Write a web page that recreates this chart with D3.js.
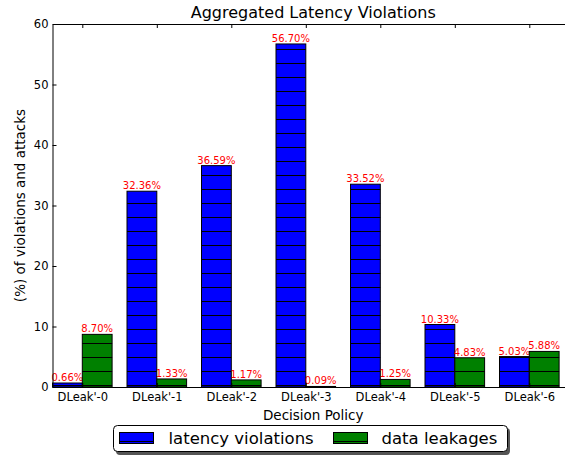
<!DOCTYPE html>
<html>
<head>
<meta charset="utf-8">
<script src="https://cdn.jsdelivr.net/npm/d3@7"></script>
<style>
  body { margin: 0; background: #fff; }
  svg { display: block; font-family: "DejaVu Sans", sans-serif; }
</style>
</head>
<body>
<svg id="chart" width="565" height="457"></svg>
<script>
var policies = ["DLeak'-0", "DLeak'-1", "DLeak'-2", "DLeak'-3", "DLeak'-4", "DLeak'-5", "DLeak'-6"];
var latencyViolations = [0.66, 32.36, 36.59, 56.70, 33.52, 10.33, 5.03];
var dataLeakages = [8.70, 1.33, 1.17, 0.09, 1.25, 4.83, 5.88];
var yTicks = [0, 10, 20, 30, 40, 50, 60];
var seriesNames = ["latency violations", "data leakages"];
var seriesColors = ["#0000ff", "#008000"];

var svg = d3.select("#chart");
var plotLeft = 52.5, plotTop = 24, plotBottom = 387, barWidth = 0.4;

var x = d3.scaleLinear().domain([0, 7]).range([plotLeft, plotLeft + 7 * 74.5]);
var y = d3.scaleLinear().domain([0, 60]).range([plotBottom, plotTop]);

// horizontal hatch lines on a fixed 14px grid (same grid for bars and legend)
function hatch(g, x0, x1, y0, y1) {
    var k0 = Math.ceil((y0 - 7.5) / 14);
    for (var k = k0; 7.5 + 14 * k < y1; k++) {
        var yy = 7.5 + 14 * k;
        g.append("line")
            .attr("x1", x0).attr("x2", x1)
            .attr("y1", yy).attr("y2", yy)
            .attr("stroke", "#000").attr("stroke-width", 1);
    }
}

function drawPatch(g, x0, y0, w, h, color) {
    g.append("rect").attr("x", x0).attr("y", y0).attr("width", w).attr("height", h)
        .attr("fill", color);
    hatch(g, x0, x0 + w, y0, y0 + h);
    g.append("rect").attr("x", x0).attr("y", y0).attr("width", w).attr("height", h)
        .attr("fill", "none").attr("stroke", "#000").attr("stroke-width", 1);
}

var series = [latencyViolations, dataLeakages];

series.forEach(function(vals, s) {
    var g = svg.append("g").attr("class", "series" + s);
    vals.forEach(function(d, i) {
        var x0 = x(i + s * barWidth), x1 = x(i + s * barWidth + barWidth);
        drawPatch(g, x0, y(d), x1 - x0, y(0) - y(d), seriesColors[s]);
    });

    svg.selectAll(".lbl" + s)
        .data(vals)
        .enter().append("text")
        .attr("class", "lbl" + s)
        .attr("x", function(d, i) { return x(i + s * barWidth + barWidth / 2); })
        .attr("y", function(d) { return y(d) - 2; })
        .attr("text-anchor", "middle")
        .attr("font-size", "10px")
        .attr("fill", "red")
        .text(function(d) { return d.toFixed(2) + "%"; });
});

// axes with inward ticks
var tickPos = policies.map(function(p, i) { return i + barWidth; });

var yAxis = svg.append("g")
    .attr("transform", "translate(" + plotLeft + ",0)")
    .call(d3.axisLeft(y).tickValues(yTicks).tickSizeInner(-4).tickSizeOuter(0).tickPadding(4));
yAxis.selectAll("text").attr("font-size", "11.5px").attr("fill", "#000");

var xAxis = svg.append("g")
    .attr("transform", "translate(0," + plotBottom + ")")
    .call(d3.axisBottom(x).tickValues(tickPos).tickSizeInner(-4).tickSizeOuter(0).tickPadding(6)
        .tickFormat(function(d, i) { return policies[i]; }));
xAxis.selectAll("text").attr("font-size", "11.5px").attr("fill", "#000");

svg.append("g")
    .attr("transform", "translate(0," + plotTop + ")")
    .call(d3.axisTop(x).tickValues(tickPos).tickSizeInner(-4).tickSizeOuter(0).tickFormat(""));

svg.selectAll(".domain").attr("stroke", "#000");
svg.selectAll(".tick line").attr("stroke", "#000");
svg.selectAll("g").attr("font-family", null);

// titles
svg.append("text")
    .attr("x", x(3.5)).attr("y", 17.5)
    .attr("text-anchor", "middle")
    .attr("font-size", "16px")
    .text("Aggregated Latency Violations");

svg.append("text")
    .attr("x", x(3.5)).attr("y", 420)
    .attr("text-anchor", "middle")
    .attr("font-size", "13.5px")
    .text("Decision Policy");

svg.append("text")
    .attr("transform", "translate(25," + ((plotTop + plotBottom) / 2) + ") rotate(-90)")
    .attr("text-anchor", "middle")
    .attr("font-size", "13.5px")
    .text("(%) of violations and attacks");

// legend
var lg = svg.append("g");
lg.append("rect")
    .attr("x", 116).attr("y", 428).attr("width", 394).attr("height", 27)
    .attr("rx", 4).attr("fill", "#555");
lg.append("rect")
    .attr("x", 113.5).attr("y", 425.5).attr("width", 394).attr("height", 26)
    .attr("rx", 4).attr("fill", "#fff").attr("stroke", "#000");

var legendX = [119.5, 333.5];
var legendTextX = [168.5, 381.5];
seriesNames.forEach(function(name, i) {
    drawPatch(lg, legendX[i], 432.5, 34, 11, seriesColors[i]);
    lg.append("text")
        .attr("x", legendTextX[i]).attr("y", 444)
        .attr("font-size", "16.5px")
        .text(name);
});
</script>
</body>
</html>
